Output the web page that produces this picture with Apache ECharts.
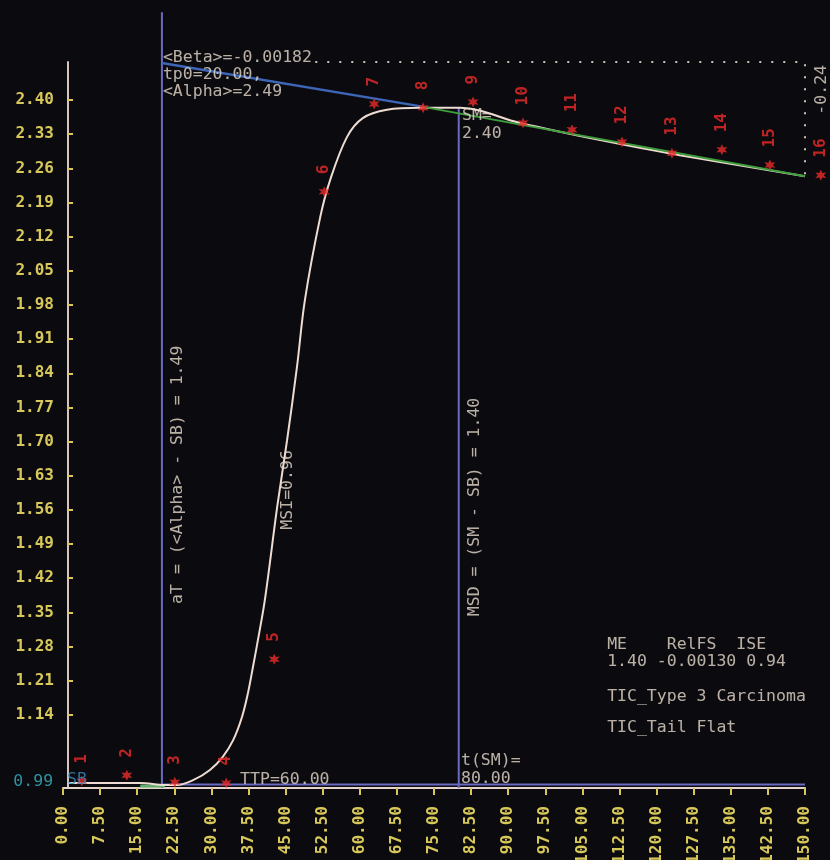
<!DOCTYPE html>
<html>
<head>
<meta charset="utf-8">
<title>TIC</title>
<script src="https://cdn.jsdelivr.net/npm/echarts@6/dist/echarts.min.js"></script>
<style>
    html, body { margin: 0; padding: 0; background: #0b0b0f; }
    #tic-chart { width: 830px; height: 860px; }
</style>
</head>
<body>
<div id="tic-chart"></div>
<script>
// Measured signal (numbered asterisks)
const pointTimes = [3.8, 12.9, 22.6, 33.0, 42.7, 52.8, 62.9, 72.8, 82.9, 93.0, 102.9, 113.0, 123.1, 133.2, 142.9, 153.2];
const pointValues = [1.004, 1.016, 1.002, 1.000, 1.254, 2.212, 2.392, 2.384, 2.396, 2.353, 2.339, 2.314, 2.291, 2.298, 2.267, 2.246];

// Fitted curve (white)
const fitTimes = [1.0, 15.6, 20.6, 23.0, 26.3, 29.7, 32.3, 34.4, 36.2, 37.4, 38.4, 39.4, 40.8, 43.3, 45.3, 47.3, 48.9, 52.0, 54.0, 57.4, 60.6, 65.5, 72.2, 80.3, 92.4, 108.6, 124.7, 150.0];
const fitValues = [1.000, 1.000, 0.996, 0.996, 1.006, 1.027, 1.054, 1.088, 1.136, 1.185, 1.238, 1.293, 1.375, 1.566, 1.703, 1.853, 1.990, 2.160, 2.236, 2.324, 2.363, 2.380, 2.384, 2.384, 2.353, 2.318, 2.287, 2.244];

// Alpha/Beta line (blue), tail fit and baseline segment (green)
const alphaTimes = [20.0, 73.0];
const alphaValues = [2.476, 2.386];
const tailTimes = [72.8, 150.0];
const tailValues = [2.386, 2.244];
const baseTimes = [15.6, 20.6];
const baseValues = [0.994, 0.994];

// Drop from <Alpha> level to the end of the curve (dotted)
const dropTimes = [51.0, 150.0, 150.0];
const dropValues = [2.478, 2.478, 2.244];

// Marker lines: tp0, t(SM), baseline
const tp0Times = [20.0, 20.0];
const tp0Values = [2.580, 0.990];
const tsmTimes = [80.0, 80.0];
const tsmValues = [2.384, 0.990];
const sbTimes = [20.0, 150.0];
const sbValues = [0.997, 0.997];

// Axis ticks
const yTickLabels = ['1.14', '1.21', '1.28', '1.35', '1.42', '1.49', '1.56', '1.63', '1.70', '1.77', '1.84', '1.91', '1.98', '2.05', '2.12', '2.19', '2.26', '2.33', '2.40'];

const MONO = '"DejaVu Sans Mono", "Liberation Mono", monospace';
const YELLOW = '#d8c85a';
const TXT = '#e6d9cc';
const RED = '#ec2a2a';
const PURPLE = '#6a6ac4';

function zip(xs, ys) {
    return xs.map((x, i) => [x, ys[i]]);
}

// Annotation texts anchored in data coordinates
const annotations = [
    { text: '<Beta>=-0.00182\ntp0=20.00,\n<Alpha>=2.49', at: [20.2, 2.504], align: 'left', va: 'top', lh: 17 },
    { text: 'SM=\n2.40', at: [80.65, 2.386], align: 'left', va: 'top', lh: 18 },
    { text: 't(SM)=\n80.00', at: [80.45, 1.064], align: 'left', va: 'top', lh: 18 },
    { text: 'TTP=60.00', at: [35.8, 1.006], align: 'left', va: 'middle' },
    { text: '0.99', at: [-2.0, 1.002], align: 'right', va: 'middle', color: '#35b4c4' },
    { text: 'SB', at: [0.8, 1.006], align: 'left', va: 'middle', color: '#3a8cc0' },
    { text: 'aT = (<Alpha> - SB) = 1.49', at: [23.25, 1.632], align: 'center', va: 'middle', rotate: 90 },
    { text: 'MSI=0.96', at: [45.5, 1.601], align: 'center', va: 'middle', rotate: 90 },
    { text: 'MSD = (SM - SB) = 1.40', at: [83.3, 1.566], align: 'center', va: 'middle', rotate: 90 },
    { text: '-0.24', at: [153.4, 2.421], align: 'center', va: 'middle', rotate: 90 },
    { text: 'ME    RelFS  ISE\n1.40 -0.00130 0.94', at: [110.0, 1.3005], align: 'left', va: 'top', lh: 17 },
    { text: 'TIC_Type 3 Carcinoma', at: [110.0, 1.1765], align: 'left', va: 'middle' },
    { text: 'TIC_Tail Flat', at: [110.0, 1.113], align: 'left', va: 'middle' }
];

function lineSeries(name, data, color, width, type) {
    return {
        name: name,
        type: 'line',
        data: data,
        clip: false,
        silent: true,
        symbol: 'none',
        lineStyle: { color: color, width: width, type: type || 'solid' },
        animation: false
    };
}

const chart = echarts.init(document.getElementById('tic-chart'));

const option = {
    backgroundColor: '#0b0b0f',
    animation: false,
    grid: {
        left: 63,
        right: 25,
        top: 62,
        bottom: 72,
        outerBoundsMode: 'none'
    },
    xAxis: {
        type: 'value',
        min: 0,
        max: 150,
        interval: 7.5,
        axisLine: { lineStyle: { color: '#e4d4cc', width: 2 } },
        axisTick: { show: true, inside: false, length: 7, lineStyle: { color: YELLOW, width: 2 } },
        axisLabel: {
            rotate: 90,
            margin: 18,
            color: YELLOW,
            fontFamily: MONO,
            fontSize: 16,
            fontWeight: 'bold',
            showMinLabel: true,
            showMaxLabel: true,
            formatter: v => v.toFixed(2)
        },
        splitLine: { show: false }
    },
    yAxis: {
        type: 'value',
        min: 0.99,
        max: 2.478,
        offset: -5,
        axisLine: { show: true, lineStyle: { color: '#d8c4bc', width: 2 } },
        axisTick: {
            show: true,
            inside: true,
            length: 5,
            customValues: yTickLabels.map(Number),
            lineStyle: { color: YELLOW, width: 2 }
        },
        axisLabel: {
            margin: 14,
            color: YELLOW,
            fontFamily: MONO,
            fontSize: 16,
            fontWeight: 'bold',
            customValues: yTickLabels.map(Number),
            formatter: v => v.toFixed(2)
        },
        splitLine: { show: false }
    },
    series: [
        lineSeries('tp0', zip(tp0Times, tp0Values), PURPLE, 2),
        lineSeries('tSM', zip(tsmTimes, tsmValues), PURPLE, 2),
        lineSeries('SB', zip(sbTimes, sbValues), PURPLE, 2),
        lineSeries('drop', zip(dropTimes, dropValues), '#c9c4b8', 2, [2, 10]),
        lineSeries('alpha', zip(alphaTimes, alphaValues), '#3d66b8', 2.5),
        lineSeries('base', zip(baseTimes, baseValues), '#5fae6a', 3),
        Object.assign(lineSeries('fit', zip(fitTimes, fitValues), '#eedcd2', 2), {
            smooth: 0.35
        }),
        lineSeries('tail', zip(tailTimes, tailValues), '#3f9e3c', 2),
        {
            name: 'signal',
            type: 'scatter',
            data: zip(pointTimes, pointValues),
            clip: false,
            symbol: 'path://M5,0 L6.2,3 L9.3,2.5 L7.3,5 L9.3,7.5 L6.2,7 L5,10 L3.8,7 L0.7,7.5 L2.7,5 L0.7,2.5 L3.8,3 Z',
            symbolSize: 11,
            itemStyle: { color: RED },
            label: {
                show: true,
                position: 'top',
                distance: 12,
                rotate: 90,
                align: 'left',
                verticalAlign: 'middle',
                color: RED,
                fontFamily: MONO,
                fontSize: 16,
                fontWeight: 'bold',
                formatter: p => String(p.dataIndex + 1)
            },
            z: 5
        },
        {
            name: 'notes',
            type: 'scatter',
            silent: true,
            clip: false,
            symbolSize: 1,
            itemStyle: { color: 'rgba(0,0,0,0)' },
            data: annotations.map(a => ({
                value: a.at,
                label: {
                    show: true,
                    position: 'inside',
                    formatter: a.text,
                    align: a.align,
                    verticalAlign: a.va,
                    rotate: a.rotate || 0,
                    lineHeight: a.lh || 17,
                    color: a.color || TXT,
                    fontFamily: MONO,
                    fontSize: 16.5
                }
            })),
            z: 6
        }
    ]
};

chart.setOption(option);

window.addEventListener('resize', function() {
    chart.resize();
});
</script>
</body>
</html>
